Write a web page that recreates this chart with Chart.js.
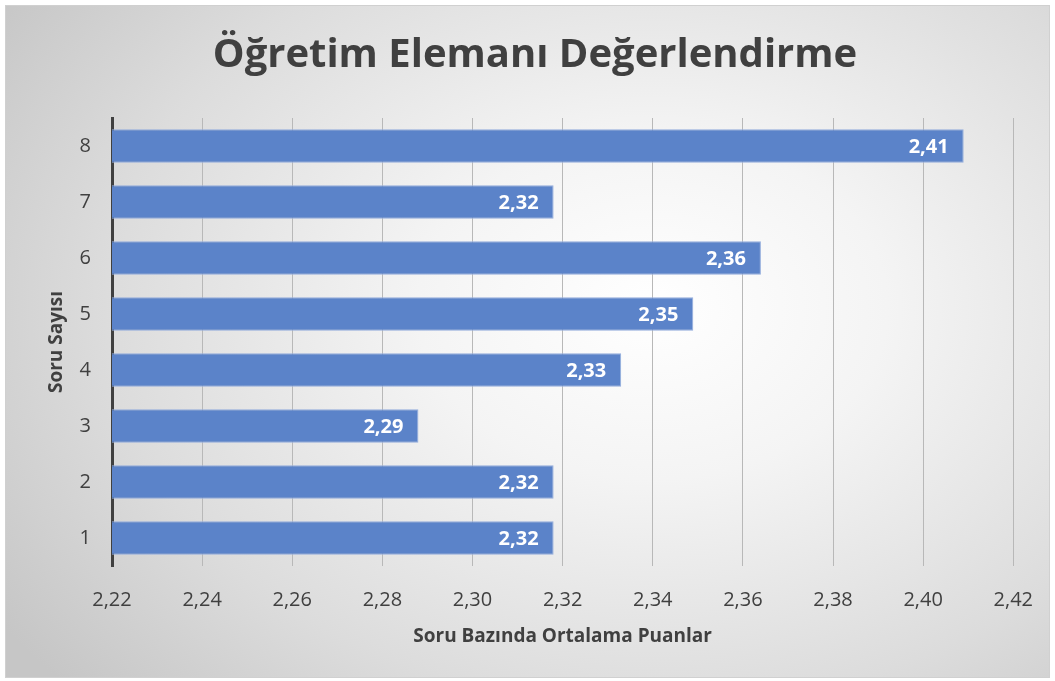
<!DOCTYPE html>
<html lang="tr">
<head>
<meta charset="utf-8">
<title>Öğretim Elemanı Değerlendirme</title>
<script src="https://cdn.jsdelivr.net/npm/chart.js@4.4.1/dist/chart.umd.min.js"></script>
<style>
  html, body { margin: 0; padding: 0; background: #ffffff; }
  #wrap { position: relative; width: 1055px; height: 681px; }
  #bg {
    position: absolute; left: 5px; top: 5px; width: 1043px; height: 671px;
    border: 1px solid #d0d0d0;
    background: radial-gradient(ellipse 75% 85% at 62% 45%, #ffffff 0%, #f4f4f4 30%, #dcdcdc 70%, #c6c6c6 100%);
  }
  #chart { position: absolute; left: 0; top: 0; }
</style>
</head>
<body>
<div id="wrap">
  <div id="bg"></div>
  <canvas id="chart" width="1055" height="681"></canvas>
</div>
<script>
'use strict';

// 데이터 (배열은 1..8 순서, y축 reverse 로 8 이 위)
const categories = ['1', '2', '3', '4', '5', '6', '7', '8'];
const scores     = [2.318, 2.318, 2.288, 2.333, 2.349, 2.364, 2.318, 2.409];
const xTicks     = [2.22, 2.24, 2.26, 2.28, 2.30, 2.32, 2.34, 2.36, 2.38, 2.40, 2.42];
const chartTitle = 'Öğretim Elemanı Değerlendirme';

const TEXT_COLOR = '#404040';
const FONT = "'Open Sans', 'DejaVu Sans', sans-serif";

const fmt = v => Number(v).toFixed(2).replace('.', ',');

/* 제목: 캔버스 중앙 기준으로 직접 그림 */
const centerTitle = {
  id: 'centerTitle',
  afterDraw(chart) {
    const ctx = chart.ctx;
    ctx.save();
    ctx.font = 'bold 40px ' + FONT;
    ctx.fillStyle = TEXT_COLOR;
    ctx.textAlign = 'center';
    ctx.textBaseline = 'middle';
    ctx.fillText(chartTitle, 535, 56);
    ctx.restore();
  }
};

/* 막대 끝 안쪽에 값 라벨 그리기 */
const barLabels = {
  id: 'barLabels',
  afterDatasetsDraw(chart) {
    const ctx = chart.ctx;
    const meta = chart.getDatasetMeta(0);
    ctx.save();
    ctx.font = 'bold 20px ' + FONT;
    ctx.fillStyle = '#ffffff';
    ctx.textAlign = 'right';
    ctx.textBaseline = 'middle';
    meta.data.forEach((bar, i) => {
      ctx.fillText(fmt(scores[i]), bar.x - 15, bar.y + 1);
    });
    ctx.restore();
  }
};

new Chart(document.getElementById('chart'), {
  type: 'bar',
  data: {
    labels: categories,
    datasets: [{
      data: scores,
      backgroundColor: '#5b83c9',
      borderColor: '#93addc',
      borderWidth: 1,
      borderSkipped: false,
      barPercentage: 0.6,
      categoryPercentage: 1.0
    }]
  },
  options: {
    indexAxis: 'y',
    responsive: false,
    animation: false,
    layout: { padding: { top: 118, right: 41, bottom: 33, left: 0 } },
    plugins: {
      legend: { display: false },
      tooltip: { enabled: false },
      title: { display: false }
    },
    scales: {
      x: {
        type: 'linear',
        min: xTicks[0],
        max: xTicks[xTicks.length - 1],
        afterBuildTicks(scale) { scale.ticks = xTicks.map(v => ({ value: v })); },
        afterFit(scale) { scale.height = 82; },
        ticks: {
          color: TEXT_COLOR,
          font: { size: 20, family: FONT },
          padding: 22,
          callback: v => fmt(v)
        },
        grid: { color: '#b8b8b8', lineWidth: 1, drawTicks: false },
        border: { display: false },
        title: {
          display: true,
          text: 'Soru Bazında Ortalama Puanlar',
          color: TEXT_COLOR,
          font: { size: 19, weight: 'bold', family: FONT },
          padding: { top: 0, bottom: 0 }
        }
      },
      y: {
        reverse: true,
        afterFit(scale) { scale.width = 112; },
        ticks: {
          color: TEXT_COLOR,
          font: { size: 20, family: FONT },
          padding: 21
        },
        grid: { display: false, drawTicks: false },
        border: { display: true, color: '#404040', width: 3 },
        title: {
          display: true,
          text: 'Soru Sayısı',
          color: TEXT_COLOR,
          font: { size: 19, weight: 'bold', family: FONT },
          padding: { top: 45, bottom: 0 }
        }
      }
    }
  },
  plugins: [barLabels, centerTitle]
});
</script>
</body>
</html>
